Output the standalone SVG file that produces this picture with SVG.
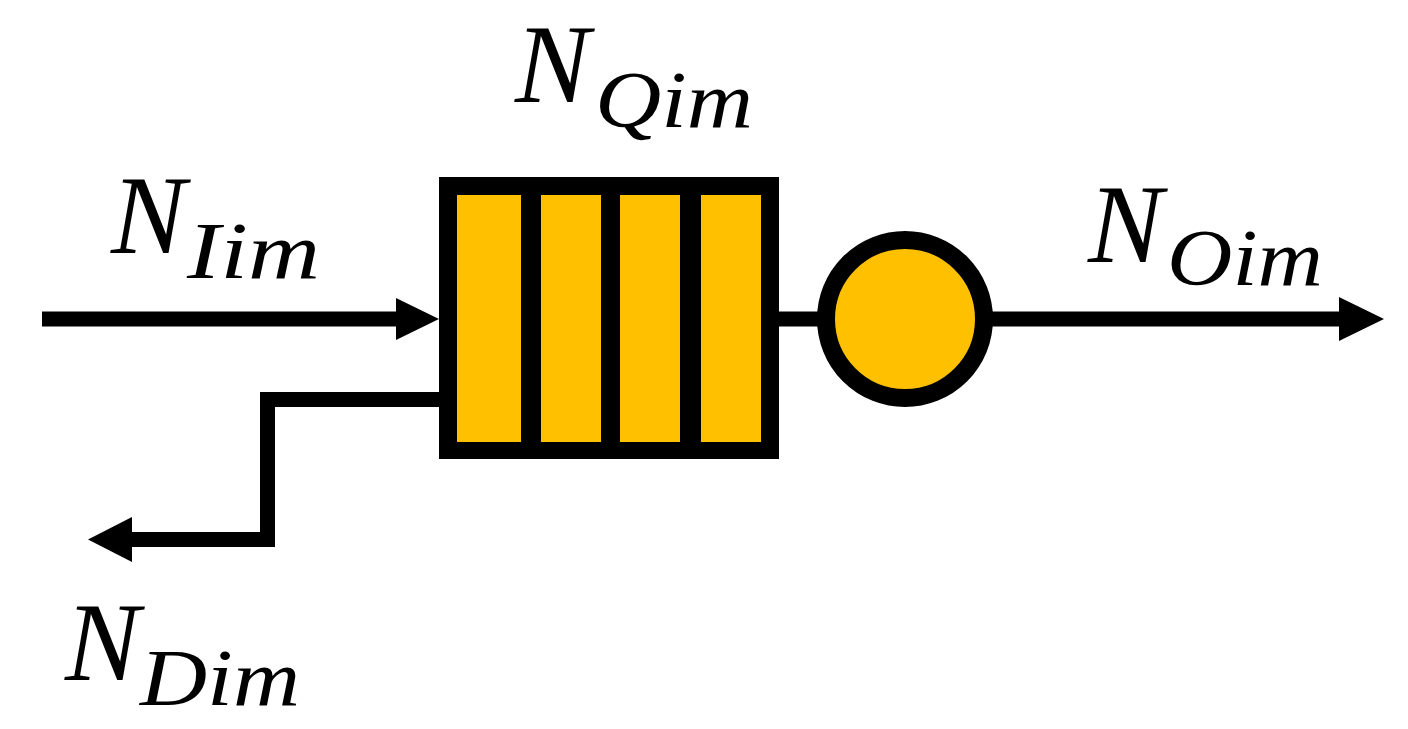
<svg xmlns="http://www.w3.org/2000/svg" width="1408" height="729" viewBox="0 0 1408 729">
<defs>
<style>
.lbl{font-family:"Liberation Serif","DejaVu Serif",serif;font-style:italic;fill:#000}
.big{font-size:112px}
.sub{font-size:80px}
.ln{fill:none;stroke:#000;stroke-width:15}
.ah{fill:#000;stroke:none}
.y{fill:#FFC000}
</style>
</defs>
<rect width="1408" height="729" fill="#fff"/>
<g id="connectors">
<line class="ln" x1="42" y1="319" x2="400" y2="319"/>
<polygon class="ah" points="396,298 439,319 396,340"/>
<line class="ln" x1="779" y1="319" x2="826" y2="319"/>
<line class="ln" x1="990" y1="319" x2="1345" y2="319"/>
<polygon class="ah" points="1339,297 1384,319 1339,341"/>
<polyline class="ln" points="440,399.5 267.5,399.5 267.5,539.5 128,539.5"/>
<polygon class="ah" points="132,517 88,539.5 132,562"/>
</g>
<g id="queue">
<rect x="439" y="177" width="340" height="282" fill="#000"/>
<rect class="y" x="457" y="195" width="64" height="247"/>
<rect class="y" x="541" y="195" width="60" height="247"/>
<rect class="y" x="620" y="195" width="60" height="247"/>
<rect class="y" x="701" y="195" width="60" height="247"/>
</g>
<g id="server">
<circle class="y" cx="905" cy="319" r="79" stroke="#000" stroke-width="18"/>
</g>
<g id="label-NQim">
<text class="lbl big" x="515" y="102">N</text>
<text class="lbl sub" x="595" y="127" textLength="158" lengthAdjust="spacingAndGlyphs">Qim</text>
</g>
<g id="label-NIim">
<text class="lbl big" x="111" y="253">N</text>
<text class="lbl sub" x="187" y="278" textLength="133" lengthAdjust="spacingAndGlyphs">Iim</text>
</g>
<g id="label-NOim">
<text class="lbl big" x="1088" y="262">N</text>
<text class="lbl sub" x="1167" y="285" textLength="156" lengthAdjust="spacingAndGlyphs">Oim</text>
</g>
<g id="label-NDim">
<text class="lbl big" x="65" y="680">N</text>
<text class="lbl sub" x="140" y="705" textLength="160" lengthAdjust="spacingAndGlyphs">Dim</text>
</g>
</svg>
